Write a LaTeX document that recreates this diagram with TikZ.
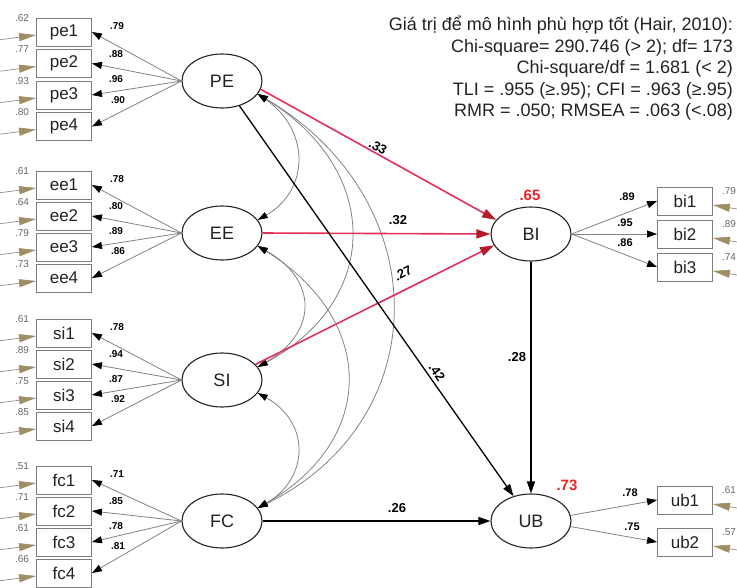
\documentclass[tikz,border=0pt]{standalone}
\usepackage{fontspec}
\setmainfont{Liberation Sans}
\usetikzlibrary{arrows.meta,shapes.geometric}
\definecolor{boxgray}{RGB}{125,125,125}
\definecolor{linegray}{RGB}{130,130,130}
\definecolor{redline}{RGB}{228,48,88}
\definecolor{redtip}{RGB}{180,28,42}
\definecolor{errtan}{RGB}{158,142,100}
\definecolor{rsqred}{RGB}{238,32,36}
\definecolor{txt}{RGB}{35,35,35}
\begin{document}
\begin{tikzpicture}[x=1pt,y=-1pt,
  lat/.style={ellipse,draw=txt,line width=1.1pt,minimum width=80pt,minimum height=54pt,inner sep=0pt,font=\fontsize{18}{18}\selectfont,text=txt},
  obs/.style={rectangle,draw=boxgray,line width=0.9pt,minimum width=55pt,minimum height=28pt,inner sep=0pt,font=\fontsize{17}{17}\selectfont,text=txt},
  ldarrow/.style={draw=linegray,line width=0.8pt,-{Triangle[length=10pt,width=7pt,color=black]}},
  errarrow/.style={draw=linegray,line width=0.6pt,-{Triangle[length=17pt,width=8pt,color=errtan]}},
  covarc/.style={draw=linegray,line width=0.8pt,{Triangle[length=10pt,width=6.5pt,color=black]}-{Triangle[length=10pt,width=6.5pt,color=black]}},
  redpath/.style={draw=redline,line width=1.6pt,-{Triangle[length=14pt,width=9pt,color=redtip]}},
  blkpath/.style={draw=black,line width=1.3pt,-{Triangle[length=12pt,width=8pt,color=black]}},
  ldlab/.style={font=\bfseries\fontsize{10}{10}\selectfont,text=black,inner sep=0pt},
  rldlab/.style={font=\bfseries\fontsize{11}{11}\selectfont,text=black,inner sep=0pt},
  varlab/.style={font=\fontsize{10}{10}\selectfont,text=black!60,inner sep=0pt},
  pathlab/.style={font=\bfseries\fontsize{13}{13}\selectfont,text=black,inner sep=0pt},
  rsqlab/.style={font=\bfseries\fontsize{15}{15}\selectfont,text=rsqred,inner sep=0pt},
  fitline/.style={anchor=base east,font=\fontsize{18}{21}\selectfont,text=txt,inner sep=0pt}
]
\fill[white] (0,0) rectangle (737,587);
\useasboundingbox (0,0) rectangle (737,587);

% left constructs with indicators
\foreach \Lname/\bname/\Yc/\ra/\rb/\rc/\rd/\va/\vb/\vc/\vd/\la/\lb/\lc/\ld in {
  PE/pe/81/32/63.5/95/126.5/.62/.77/.93/.80/.79/.88/.96/.90,
  EE/ee/233/185/216/247/278/.61/.64/.79/.73/.78/.80/.89/.86,
  SI/si/380/333/364/395/426/.61/.89/.75/.85/.78/.94/.87/.92,
  FC/fc/521/480/511/542/573/.51/.71/.61/.66/.71/.85/.78/.81}{
  \node[lat] (\Lname) at (222,\Yc) {\Lname};
  \foreach \idx/\yy/\vlab/\llab/\dyy/\lxx in {1/\ra/\va/\la/-6/117, 2/\rb/\vb/\lb/-9.5/116, 3/\rc/\vc/\lc/-16/116, 4/\rd/\vd/\ld/-26.5/118}{
    \node[obs] (\bname\idx) at (64,\yy) {\bname\idx};
    \coordinate (err\bname\idx) at (-2,\yy+8);
    \draw[errarrow] (err\bname\idx) -- ([yshift=-3pt]\bname\idx.west);
    \node[varlab] (vl\bname\idx) at (22,\yy-14) {\vlab};
    \draw[ldarrow] (\Lname.west) -- (\bname\idx.east);
    \node[ldlab] (ll\bname\idx) at (\lxx,\yy+\dyy) {\llab};
  }
}

% endogenous constructs
\node[lat] (BI) at (531,234) {BI};
\node[lat] (UB) at (531,521) {UB};
\node[rsqlab] (rbi) at (530,195) {.65};
\node[rsqlab] (rub) at (567,485) {.73};

% right indicators
\node[obs] (bi1) at (685,201) {bi1};
\node[obs] (bi2) at (685,234) {bi2};
\node[obs] (bi3) at (685,267) {bi3};
\node[obs] (ub1) at (685,500) {ub1};
\node[obs] (ub2) at (685,542) {ub2};

\draw[ldarrow] (BI.east) -- (bi1.west);
\draw[ldarrow] (BI.east) -- (bi2.west);
\draw[ldarrow] (BI.east) -- (bi3.west);
\draw[ldarrow] (UB.8) -- (ub1.west);
\draw[ldarrow] (UB.-8) -- (ub2.west);
\node[rldlab] (lbi1) at (627,197) {.89};
\node[rldlab] (lbi2) at (625,223) {.95};
\node[rldlab] (lbi3) at (625,243) {.86};
\node[rldlab] (lub1) at (630,493) {.78};
\node[rldlab] (lub2) at (632,527) {.75};

\foreach \bx/\vv in {bi1/.79, bi2/.89, bi3/.74, ub1/.61, ub2/.57}{
  \coordinate (err\bx) at ([xshift=36pt,yshift=-10pt]\bx.east);
  \draw[errarrow] (err\bx) -- ([yshift=-4pt]\bx.east);
  \node[varlab] (vl\bx) at ([xshift=16pt,yshift=10pt]\bx.east) {\vv};
}

% covariances
\draw[covarc] (PE.-20) .. controls (310,130) and (310,190) .. (EE.20);
\draw[covarc] (EE.-20) .. controls (318,280) and (318,332) .. (SI.20);
\draw[covarc] (SI.-20) .. controls (310,422) and (310,478) .. (FC.20);
\draw[covarc] (PE.-20) .. controls (382,170) and (382,300) .. (SI.20);
\draw[covarc] (EE.-20) .. controls (377,320) and (377,440) .. (FC.20);
\draw[covarc] (PE.-20) .. controls (437,200) and (437,420) .. (FC.20);

% structural paths
\draw[redpath] (PE.-12) -- (BI.158);
\draw[redpath] (EE.east) -- (BI.west);
\draw[redpath] (SI.25) -- (BI.197);
\draw[blkpath] (PE) -- (UB);
\draw[blkpath] (BI.south) -- (UB.north);
\draw[blkpath] (FC.east) -- (UB.west);

\node[pathlab,rotate=-30] (p33) at (378,147) {.33};
\node[pathlab] (p32) at (398,220) {.32};
\node[pathlab,rotate=27] (p27) at (403,273) {.27};
\node[pathlab,rotate=-55] (p42) at (437,372) {.42};
\node[pathlab] (p28) at (517,357) {.28};
\node[pathlab] (p26) at (397,508) {.26};

% fit indices
\node[fitline] (t1) at (733,30.5) {Giá trị để mô hình phù hợp tốt (Hair, 2010):};
\node[fitline] (t2) at (733,52.5) {Chi-square= 290.746 (> 2); df= 173};
\node[fitline] (t3) at (733,73.5) {Chi-square/df = 1.681 (< 2)};
\node[fitline] (t4) at (733,95.5) {TLI = .955 (≥.95); CFI = .963 (≥.95)};
\node[fitline] (t5) at (733,116.5) {RMR = .050; RMSEA = .063 (<.08)};
\end{tikzpicture}
\end{document}
